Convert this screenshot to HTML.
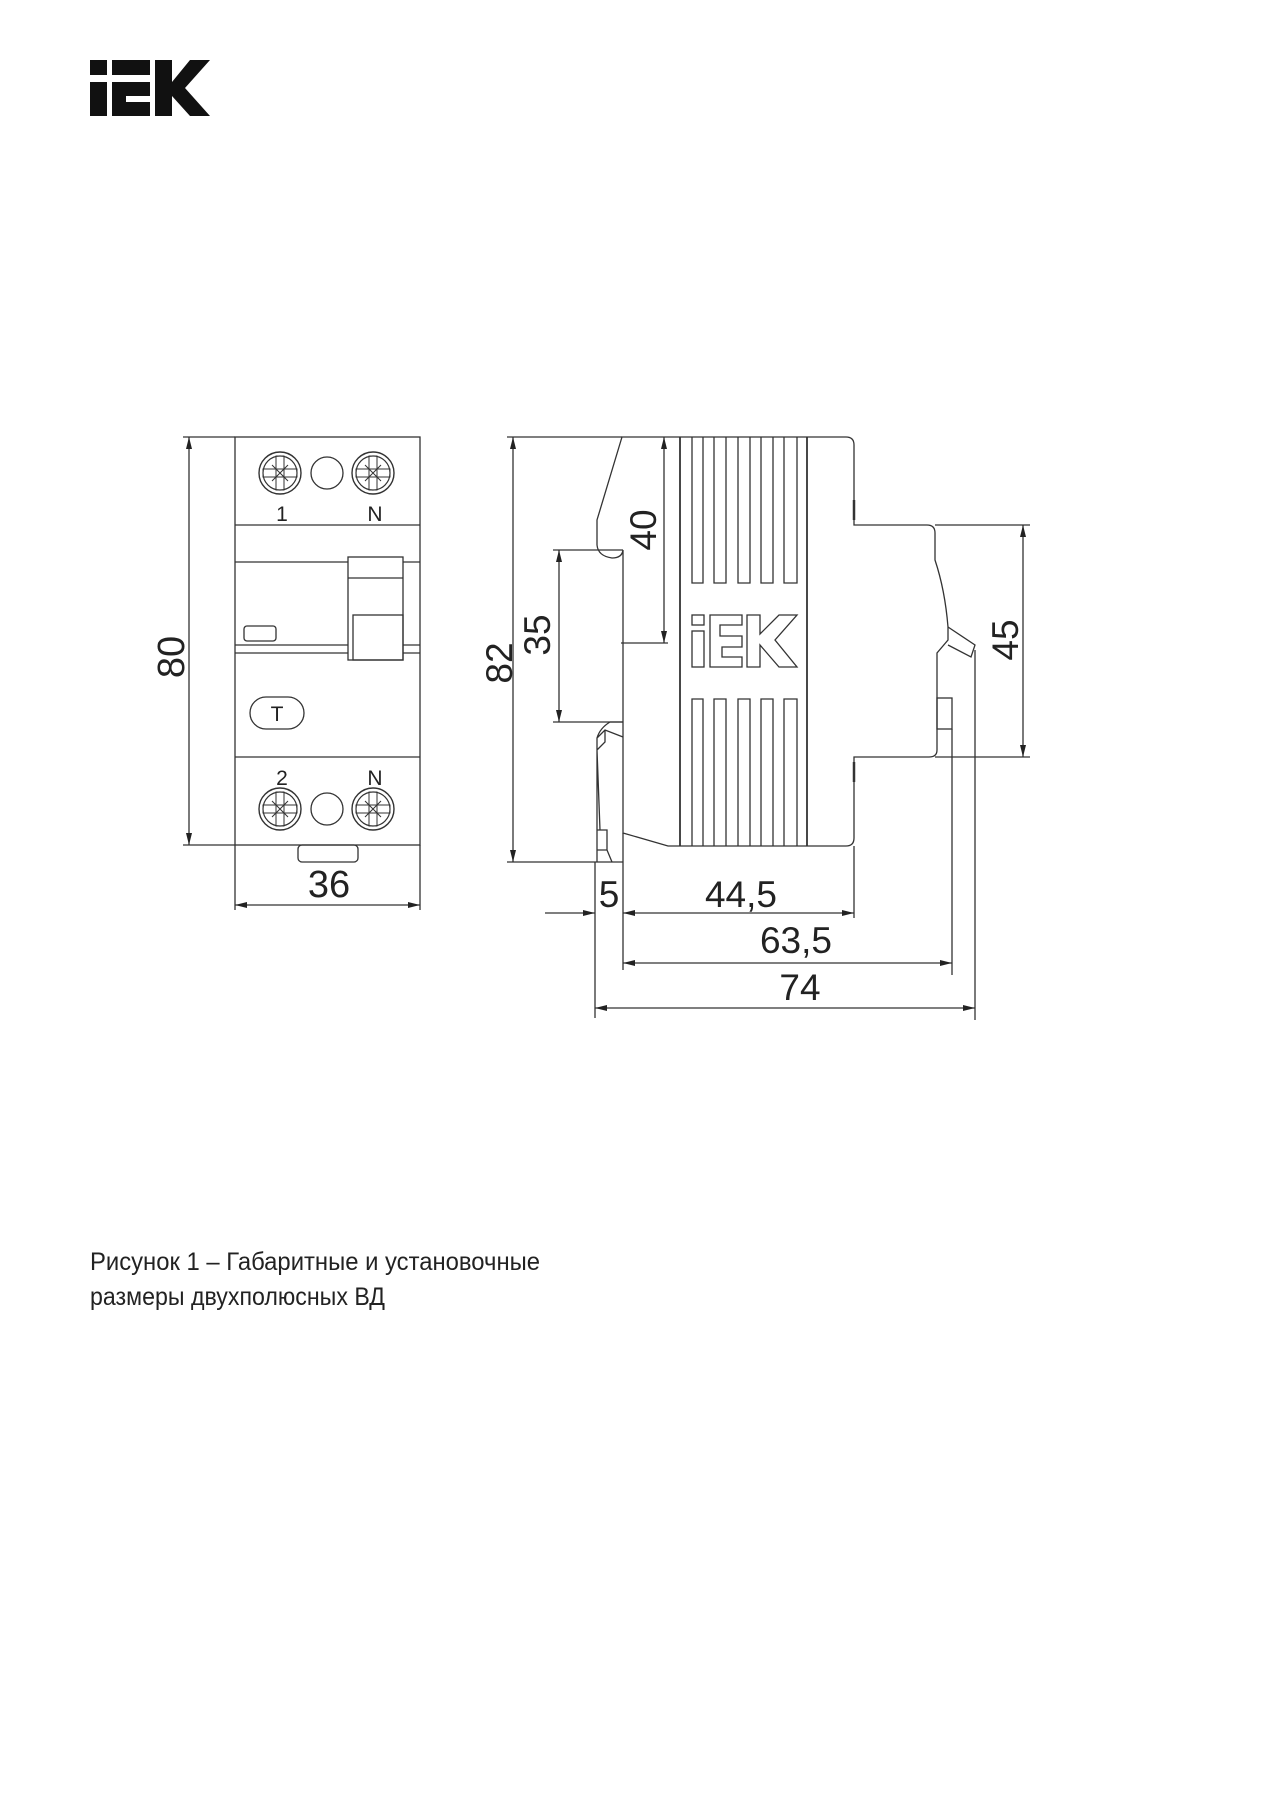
<!DOCTYPE html>
<html><head><meta charset="utf-8"><style>
html,body{margin:0;padding:0;background:#fff}
svg{display:block}
text{font-family:"Liberation Sans",sans-serif;fill:#222}
</style></head><body>
<svg width="1280" height="1804" viewBox="0 0 1280 1804" xmlns="http://www.w3.org/2000/svg">
<defs>
<marker id="a" viewBox="0 0 12 6" refX="12" refY="3" markerWidth="12" markerHeight="6" orient="auto-start-reverse" markerUnits="userSpaceOnUse"><path d="M0,0 L12,3 L0,6 Z" fill="#222"/></marker>
<g id="scr"><circle r="21" fill="none" stroke="#333" stroke-width="1.4"/><circle r="17" fill="none" stroke="#333" stroke-width="1.2"/><rect x="-4" y="-17" width="8" height="34" fill="none" stroke="#333"/><rect x="-17" y="-4" width="34" height="8" fill="none" stroke="#333"/><path d="M-8,-8 L8,8 M-8,8 L8,-8" stroke="#333"/></g>
</defs>
<!-- logo -->
<g fill="#111">
<rect x="90" y="60" width="17" height="15"/><rect x="90" y="82" width="17" height="34"/>
<rect x="112" y="60" width="38" height="15"/><rect x="112" y="82" width="38" height="14"/><rect x="112" y="82" width="14" height="34"/><rect x="112" y="102" width="38" height="14"/>
<rect x="155" y="60" width="17" height="56"/><polygon points="172,82 190,60 210,60 185,88 210,116 190,116 172,96"/>
</g>
<g fill="none" stroke="#333" stroke-width="1.3">
<!-- front view -->
<rect x="235" y="437" width="185" height="408"/>
<line x1="235" y1="525" x2="420" y2="525"/>
<line x1="235" y1="562" x2="420" y2="562"/>
<line x1="235" y1="645" x2="420" y2="645"/><line x1="235" y1="653" x2="420" y2="653"/>
<line x1="235" y1="757" x2="420" y2="757"/>
<rect x="348" y="557" width="55" height="103" fill="#fff"/>
<line x1="348" y1="578" x2="403" y2="578"/>
<rect x="353" y="615" width="50" height="45"/>
<rect x="244" y="626" width="32" height="15" rx="3"/>
<rect x="250" y="697" width="54" height="32" rx="16"/>
<rect x="298" y="845" width="60" height="17" rx="4"/>
<circle cx="327" cy="473" r="16"/><circle cx="327" cy="809" r="16"/>
<!-- dims front -->
<line x1="183" y1="437" x2="235" y2="437"/><line x1="183" y1="845" x2="235" y2="845"/>
<line x1="189" y1="437" x2="189" y2="845" marker-start="url(#a)" marker-end="url(#a)"/>
<line x1="235" y1="845" x2="235" y2="910"/><line x1="420" y1="845" x2="420" y2="910"/>
<line x1="235" y1="905" x2="420" y2="905" marker-start="url(#a)" marker-end="url(#a)"/>
</g>
<use href="#scr" x="280" y="473"/><use href="#scr" x="373" y="473"/>
<use href="#scr" x="280" y="809"/><use href="#scr" x="373" y="809"/>
<g font-size="21" fill="#555" text-anchor="middle"><text x="282" y="521">1</text><text x="375" y="521">N</text><text x="282" y="785">2</text><text x="375" y="785">N</text></g>
<text x="277" y="721" font-size="21" text-anchor="middle" fill="#444">T</text>
<text font-size="38" text-anchor="middle" transform="translate(184,657) rotate(-90)">80</text>
<text x="329" y="897" font-size="38" text-anchor="middle">36</text>

<!-- side view -->
<g fill="none" stroke="#333" stroke-width="1.3">
<path d="M622,437 L846,437 Q854,437 854,445 L854,525 L927,525 Q935,525 935,533 L935,560 Q945,590 948,627 L948,640 L937,653 L937,750 Q937,757 929,757 L854,757 L854,838 Q854,846 846,846 L668,846 L623,833 L623,550 Q622,558 612,558 Q598,556 597,545 L597,520 Z"/>
<path d="M948,627 L975,645 L971,657 L948,645"/>
<rect x="937" y="698" width="15" height="31"/>
<line x1="854" y1="500" x2="854" y2="520" stroke-width="2.5"/>
<line x1="854" y1="762" x2="854" y2="782" stroke-width="2.5"/>
<line x1="680" y1="437" x2="680" y2="846" stroke-width="1.8"/><line x1="807" y1="437" x2="807" y2="846" stroke-width="1.8"/>
<path d="M692,437V583H703V437 M714,437V583H726V437 M738,437V583H750V437 M761,437V583H773V437 M784,437V583H797V437"/>
<path d="M692,846V699H703V846 M714,846V699H726V846 M738,846V699H750V846 M761,846V699H773V846 M784,846V699H797V846"/>
<!-- outlined logo -->
<rect x="692" y="615" width="12" height="10"/><rect x="692" y="631" width="12" height="36"/>
<path d="M710,615H742V625H720V636H742V647H722V657H742V667H710Z"/>
<path d="M747,615H760V634L779,615H797L775,640L797,667H779L760,645V667H747Z"/>
<!-- din clip -->
<path d="M623,722 L610,722 Q600,728 597,738 L597,760 M597,738 L605,730 L623,737 M605,730 L605,742 L597,750 M597,760 L597,862 M597,750 L600,830 M597,830 L607,830 L607,850 M597,850 L607,850 L612,862"/>
<!-- dims side -->
<line x1="507" y1="437" x2="622" y2="437"/><line x1="507" y1="862" x2="623" y2="862"/>
<line x1="513" y1="437" x2="513" y2="862" marker-start="url(#a)" marker-end="url(#a)"/>
<line x1="553" y1="550" x2="623" y2="550"/><line x1="553" y1="722" x2="623" y2="722"/>
<line x1="559" y1="550" x2="559" y2="722" marker-start="url(#a)" marker-end="url(#a)"/>
<line x1="621" y1="643" x2="668" y2="643"/>
<line x1="664" y1="437" x2="664" y2="643" marker-start="url(#a)" marker-end="url(#a)"/>
<line x1="935" y1="525" x2="1030" y2="525"/><line x1="935" y1="757" x2="1030" y2="757"/>
<line x1="1023" y1="525" x2="1023" y2="757" marker-start="url(#a)" marker-end="url(#a)"/>
<line x1="595" y1="862" x2="595" y2="1018"/><line x1="623" y1="833" x2="623" y2="970"/>
<line x1="854" y1="846" x2="854" y2="918"/><line x1="952" y1="729" x2="952" y2="975"/>
<line x1="975" y1="650" x2="975" y2="1020"/>
<line x1="545" y1="913" x2="595" y2="913" marker-end="url(#a)"/>
<line x1="623" y1="913" x2="854" y2="913" marker-start="url(#a)" marker-end="url(#a)"/>
<line x1="623" y1="963" x2="952" y2="963" marker-start="url(#a)" marker-end="url(#a)"/>
<line x1="595" y1="1008" x2="975" y2="1008" marker-start="url(#a)" marker-end="url(#a)"/>
</g>
<g font-size="37" text-anchor="middle">
<text transform="translate(512,663) rotate(-90)">82</text>
<text transform="translate(550,635) rotate(-90)">35</text>
<text transform="translate(656,530) rotate(-90)">40</text>
<text transform="translate(1018,640) rotate(-90)">45</text>
<text x="609" y="907">5</text>
<text x="741" y="907">44,5</text>
<text x="796" y="953">63,5</text>
<text x="800" y="1000">74</text>
</g>
<text x="90" y="1270" font-size="25" textLength="450" lengthAdjust="spacingAndGlyphs">Рисунок 1 – Габаритные и установочные</text>
<text x="90" y="1305" font-size="25" textLength="295" lengthAdjust="spacingAndGlyphs">размеры двухполюсных ВД</text>
</svg>
</body></html>
